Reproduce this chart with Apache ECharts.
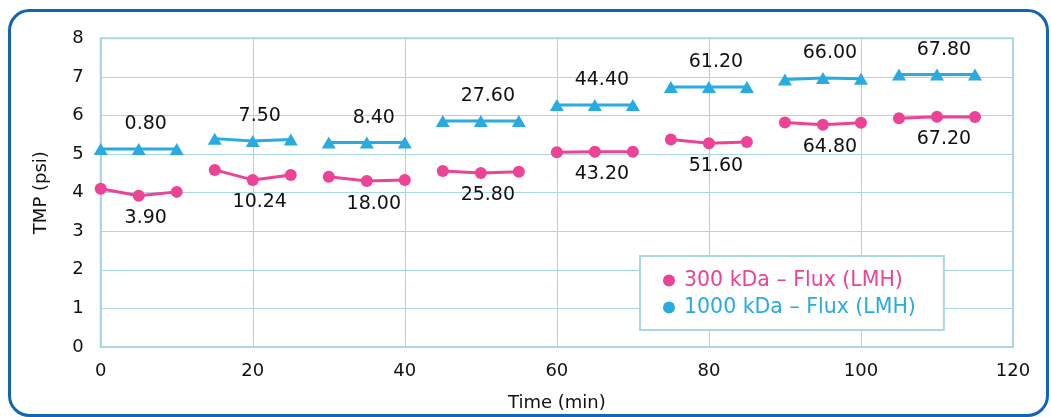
<!DOCTYPE html>
<html>
<head>
<meta charset="utf-8">
<script src="https://cdn.jsdelivr.net/npm/echarts@6/dist/echarts.min.js"></script>
<style>
html,body{margin:0;padding:0;background:#fff;}
#c{width:1051px;height:417px;}
</style>
</head>
<body>
<div id="c"></div>
<script>
// Time points (min), 3 readings per group
const time = [0,5,10, 15,20,25, 30,35,40, 45,50,55, 60,65,70, 75,80,85, 90,95,100, 105,110,115];
// TMP (psi) for each membrane
const tmp300 = [4.10,3.92,4.02, 4.59,4.33,4.46, 4.41,4.30,4.33, 4.56,4.51,4.54, 5.05,5.06,5.06, 5.38,5.28,5.31, 5.82,5.76,5.81, 5.93,5.97,5.96];
const tmp1000 = [5.13,5.13,5.13, 5.40,5.34,5.38, 5.30,5.30,5.30, 5.86,5.86,5.86, 6.27,6.27,6.27, 6.74,6.74,6.74, 6.93,6.97,6.95, 7.06,7.06,7.06];
// Flux (LMH) labels, one per group
const flux300 = ['3.90','10.24','18.00','25.80','43.20','51.60','64.80','67.20'];
const flux1000 = ['0.80','7.50','8.40','27.60','44.40','61.20','66.00','67.80'];
const xTicks = [0,20,40,60,80,100,120];
const yTicks = [0,1,2,3,4,5,6,7,8];

const PINK = '#EC4396';
const BLUE = '#29ABE2';
const GRID = '#A9D8E2';

function build(vals, labels) {
  const out = [];
  for (let i = 0; i < time.length; i++) {
    const item = { value: [time[i], vals[i]] };
    if (i % 3 === 1) {
      item.label = { show: true, formatter: labels[(i - 1) / 3] };
    }
    out.push(item);
    if (i % 3 === 2 && i < time.length - 1) out.push({ value: [time[i] + 2.5, '-'] });
  }
  return out;
}

const chart = echarts.init(document.getElementById('c'));
chart.setOption({
  animation: false,
  backgroundColor: '#fff',
  textStyle: { fontFamily: 'DejaVu Sans' },
  graphic: [{
    type: 'rect',
    shape: { x: 9.5, y: 10.5, width: 1038, height: 405, r: 20 },
    style: { fill: 'none', stroke: '#1264B5', lineWidth: 3 },
    z: -1
  }],
  grid: {
    left: 100.7, right: 38, top: 38.3, bottom: 67.7,
    show: true, borderColor: GRID, borderWidth: 2
  },
  xAxis: {
    type: 'value', min: 0, max: 120, interval: 20,
    name: 'Time (min)', nameLocation: 'middle', nameGap: 47,
    nameTextStyle: { fontSize: 18, color: '#111', fontFamily: 'DejaVu Sans' },
    axisLine: { show: true, lineStyle: { color: GRID, width: 2 } },
    axisTick: { show: false },
    axisLabel: { fontSize: 18, color: '#111', margin: 15, fontFamily: 'DejaVu Sans',
      formatter: v => xTicks.includes(v) ? String(v) : '' },
    splitLine: { show: true, lineStyle: { color: GRID, width: 1 } }
  },
  yAxis: {
    type: 'value', min: 0, max: 8, interval: 1,
    name: 'TMP (psi)', nameLocation: 'middle', nameGap: 50, nameRotate: 90,
    nameTextStyle: { fontSize: 18, color: '#111', fontFamily: 'DejaVu Sans' },
    axisLine: { show: true, lineStyle: { color: GRID, width: 2 } },
    axisTick: { show: false },
    axisLabel: { fontSize: 18, color: '#111', margin: 17, fontFamily: 'DejaVu Sans',
      formatter: v => yTicks.includes(v) ? String(v) : '' },
    splitLine: { show: true, lineStyle: { color: GRID, width: 1 } }
  },
  legend: {
    orient: 'vertical', left: 640, top: 256,
    backgroundColor: '#fff', borderColor: GRID, borderWidth: 2,
    padding: [14, 28, 12, 23], itemGap: 6, itemWidth: 20, itemHeight: 12,
    textStyle: { fontSize: 20.5, fontFamily: 'DejaVu Sans' },
    data: [
      { name: '300 kDa – Flux (LMH)', icon: 'circle', textStyle: { color: PINK } },
      { name: '1000 kDa – Flux (LMH)', icon: 'circle', textStyle: { color: BLUE } }
    ]
  },
  series: [
    {
      name: '300 kDa – Flux (LMH)', type: 'line',
      data: build(tmp300, flux300),
      connectNulls: false,
      symbol: 'circle', symbolSize: 12,
      itemStyle: { color: PINK },
      lineStyle: { color: PINK, width: 3 },
      label: { position: 'bottom', distance: 7, offset: [7, 0], fontSize: 19, color: '#111', fontFamily: 'DejaVu Sans' }
    },
    {
      name: '1000 kDa – Flux (LMH)', type: 'line',
      data: build(tmp1000, flux1000),
      connectNulls: false,
      symbol: 'triangle', symbolSize: [14, 12],
      itemStyle: { color: BLUE },
      lineStyle: { color: BLUE, width: 3 },
      label: { position: 'top', distance: 9, offset: [7, 0], fontSize: 19, color: '#111', fontFamily: 'DejaVu Sans' }
    }
  ]
});
</script>
</body>
</html>
